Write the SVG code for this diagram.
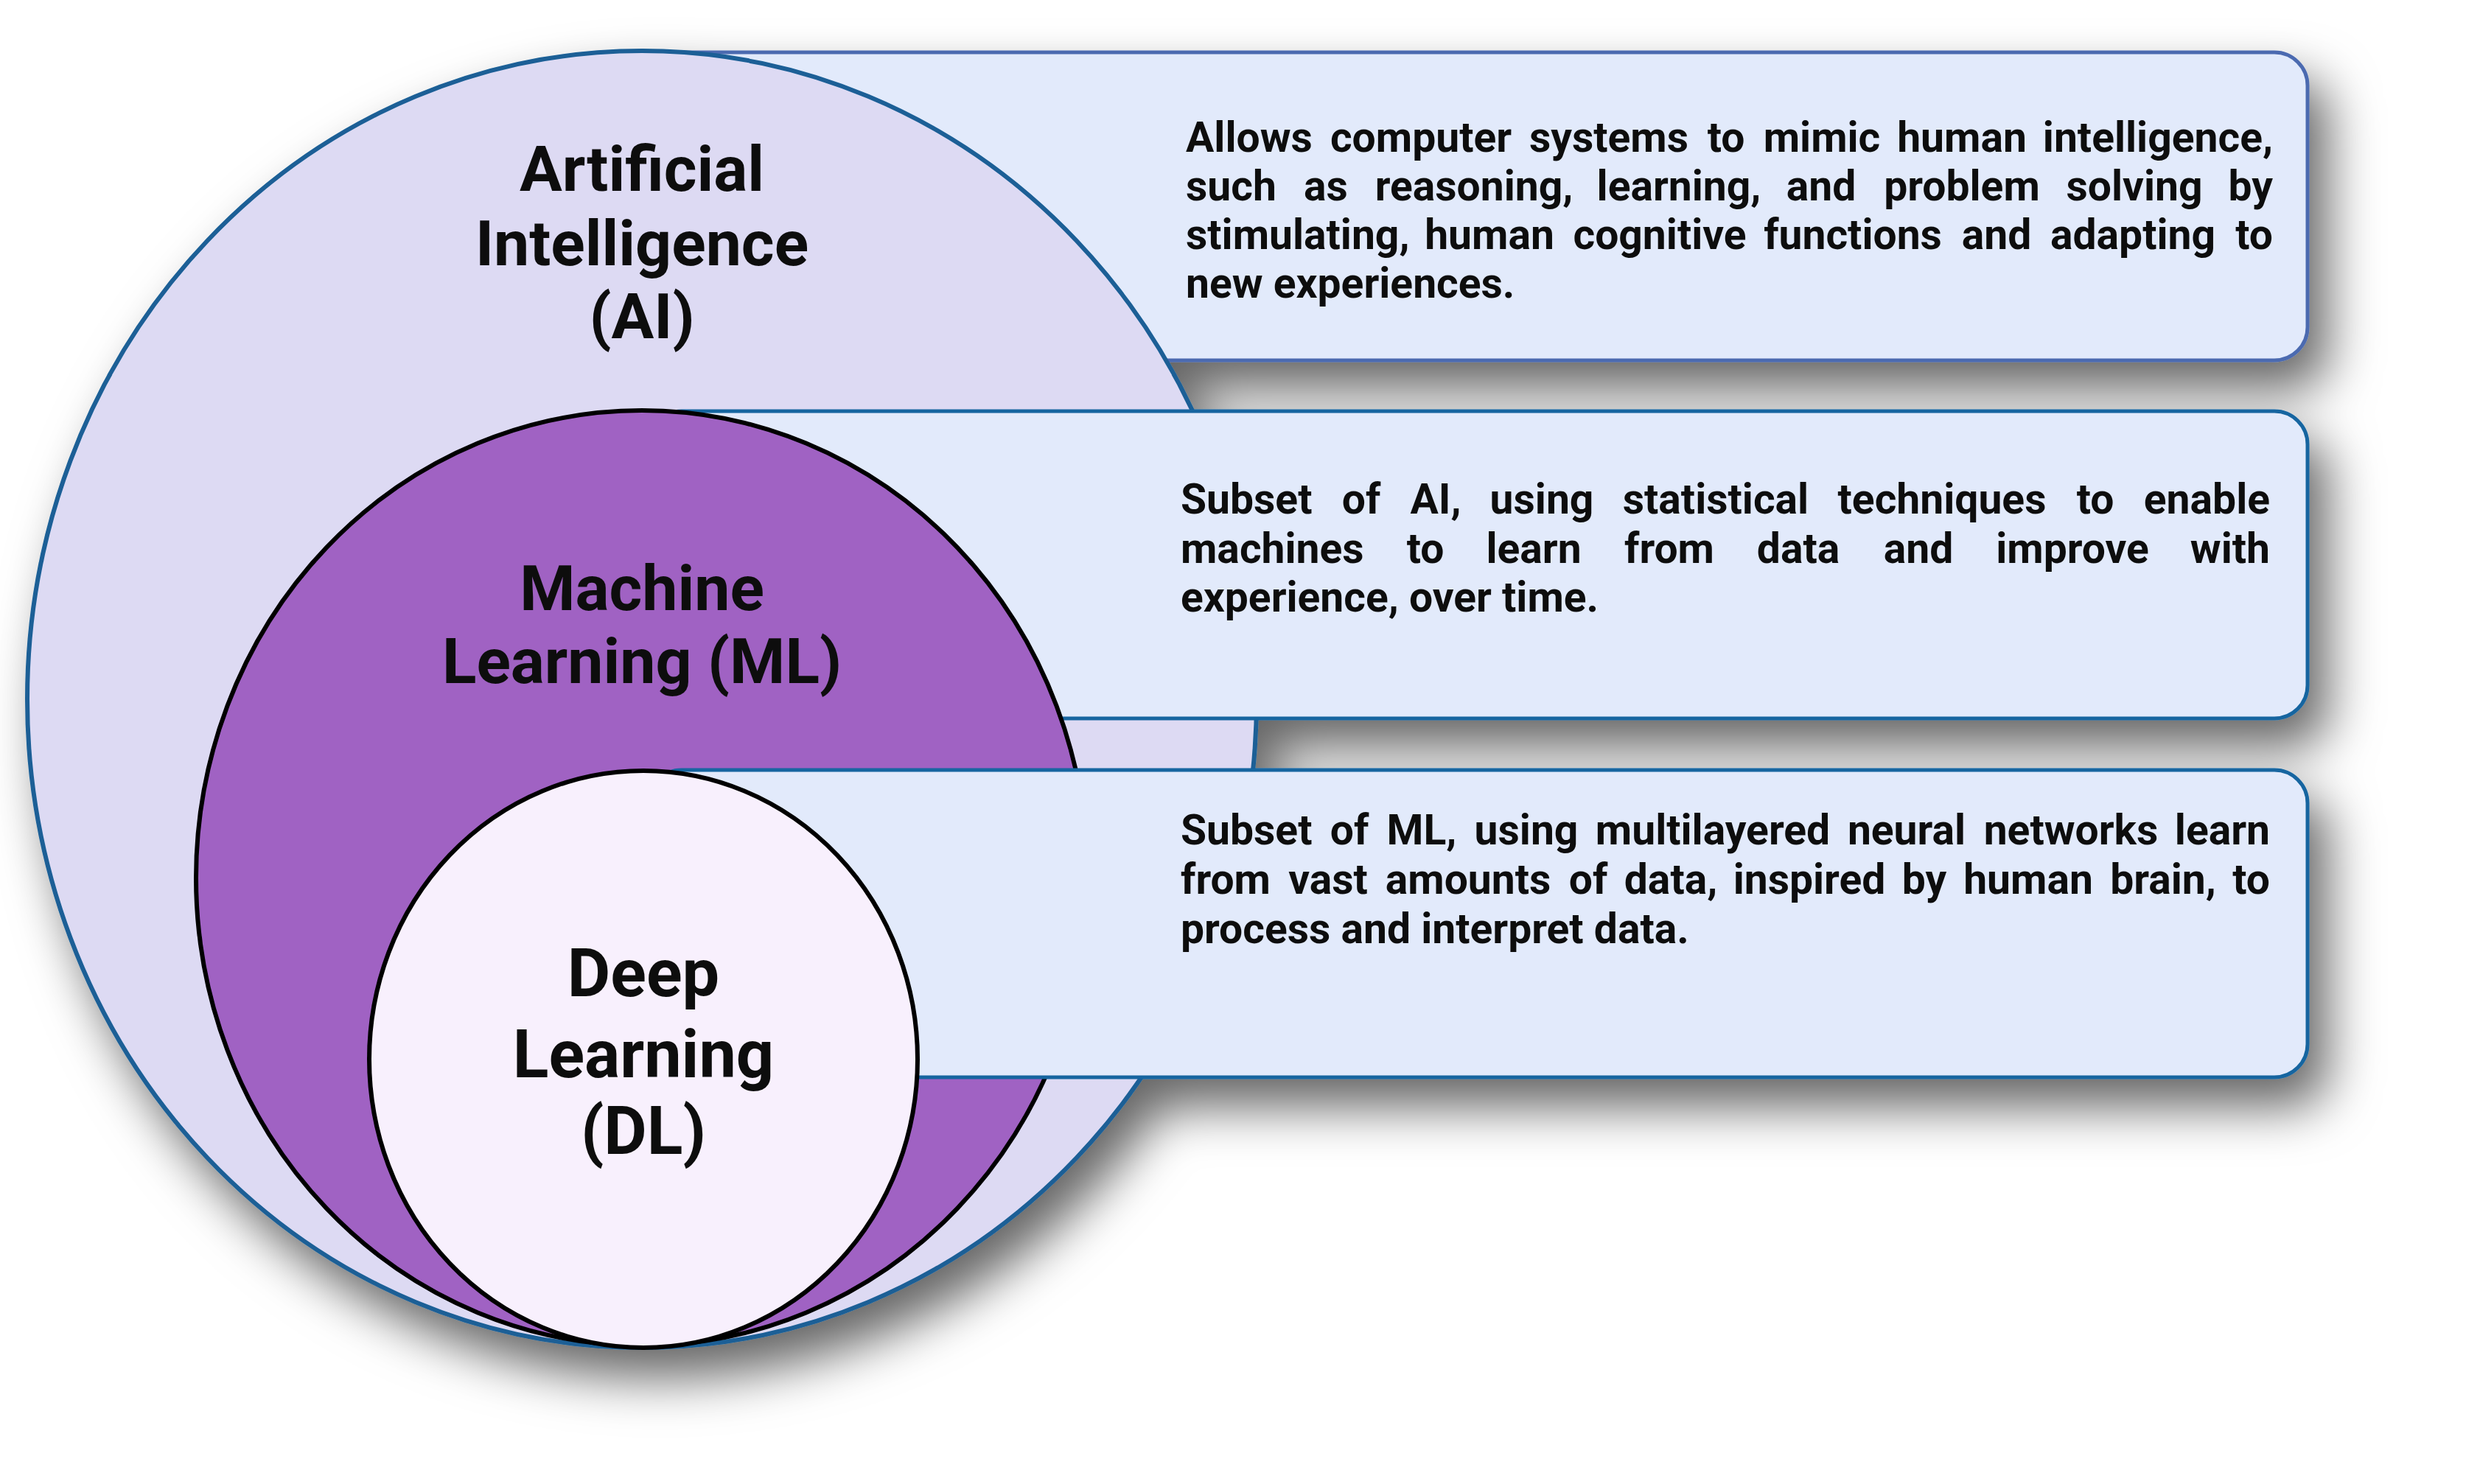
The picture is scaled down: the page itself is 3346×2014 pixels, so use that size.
<svg xmlns="http://www.w3.org/2000/svg" width="3346" height="2014" viewBox="0 0 3346 2014">
<defs>
<filter id="shadow" filterUnits="userSpaceOnUse" x="0" y="0" width="3346" height="2014">
<feDropShadow dx="25" dy="38" stdDeviation="34" flood-color="#000" flood-opacity="0.6"/>
</filter>
</defs>
<style>
.box{fill:#e2eafb;stroke:#1565a0;stroke-width:5}
.box1{stroke:#4c6bb0}
.title{font-family:Roboto,"Liberation Sans",sans-serif;font-weight:700;font-size:86px;fill:#111;text-anchor:middle}
.desc{font-family:Roboto,"Liberation Sans",sans-serif;font-weight:700;font-size:57px;fill:#111}
.mid{text-anchor:middle}
.end{text-anchor:end}
</style>
<rect width="3346" height="2014" fill="#fff"/>
<g id="diagram" filter="url(#shadow)">
<g id="box-ai">
<rect class="box box1" x="880" y="71" width="2251" height="418" rx="45"/>
<text class="desc" x="1609" y="206">Allows</text>
<text class="desc mid" y="206"><tspan x="1928">computer</tspan><tspan x="2183">systems</tspan><tspan x="2342">to</tspan><tspan x="2472">mimic</tspan><tspan x="2662">human</tspan></text>
<text class="desc end" x="3084" y="206">intelligence,</text>
<text class="desc" x="1609" y="272">such</text>
<text class="desc mid" y="272"><tspan x="1799">as</tspan><tspan x="2000">reasoning,</tspan><tspan x="2278">learning,</tspan><tspan x="2471">and</tspan><tspan x="2662">problem</tspan><tspan x="2896">solving</tspan></text>
<text class="desc end" x="3084" y="272">by</text>
<text class="desc" x="1609" y="338">stimulating,</text>
<text class="desc mid" y="338"><tspan x="2021">human</tspan><tspan x="2252">cognitive</tspan><tspan x="2514">functions</tspan><tspan x="2709">and</tspan><tspan x="2894">adapting</tspan></text>
<text class="desc end" x="3084" y="338">to</text>
<text class="desc" x="1609" y="404">new experiences.</text>
</g>
<g id="node-ai">
<ellipse cx="871" cy="949" rx="834" ry="880" fill="#dddaf3" stroke="#1a5f96" stroke-width="6"/>
<text class="title" x="871" y="259">Artificial</text>
<text class="title" x="871" y="360">Intelligence</text>
<text class="title" x="871" y="459">(AI)</text>
</g>
<g id="box-ml">
<rect class="box" x="880" y="558" width="2251" height="417" rx="45"/>
<text class="desc" x="1602" y="697">Subset</text>
<text class="desc mid" y="697"><tspan x="1847">of</tspan><tspan x="1948">AI,</tspan><tspan x="2092">using</tspan><tspan x="2328">statistical</tspan><tspan x="2635">techniques</tspan><tspan x="2843">to</tspan></text>
<text class="desc end" x="3080" y="697">enable</text>
<text class="desc" x="1602" y="764">machines</text>
<text class="desc mid" y="764"><tspan x="1934">to</tspan><tspan x="2081">learn</tspan><tspan x="2265">from</tspan><tspan x="2440">data</tspan><tspan x="2603">and</tspan><tspan x="2812">improve</tspan></text>
<text class="desc end" x="3080" y="764">with</text>
<text class="desc" x="1602" y="830">experience, over time.</text>
</g>
<g id="node-ml">
<ellipse cx="871" cy="1191.5" rx="605" ry="634.5" fill="#a062c3" stroke="#000" stroke-width="6"/>
<text class="title" x="871" y="828">Machine</text>
<text class="title" x="871" y="927">Learning (ML)</text>
</g>
<g id="box-dl">
<rect class="box" x="880" y="1045" width="2251" height="417" rx="45"/>
<text class="desc" x="1602" y="1146">Subset</text>
<text class="desc mid" y="1146"><tspan x="1831">of</tspan><tspan x="1929">ML,</tspan><tspan x="2071">using</tspan><tspan x="2324">multilayered</tspan><tspan x="2587">neural</tspan><tspan x="2810">networks</tspan></text>
<text class="desc end" x="3080" y="1146">learn</text>
<text class="desc" x="1602" y="1213">from</text>
<text class="desc mid" y="1213"><tspan x="1802">vast</tspan><tspan x="1992">amounts</tspan><tspan x="2155">of</tspan><tspan x="2267">data,</tspan><tspan x="2455">inspired</tspan><tspan x="2611">by</tspan><tspan x="2752">human</tspan><tspan x="2935">brain,</tspan></text>
<text class="desc end" x="3080" y="1213">to</text>
<text class="desc" x="1602" y="1280">process and interpret data.</text>
</g>
<g id="node-dl">
<ellipse cx="873" cy="1437.5" rx="372" ry="391.5" fill="#f8f0fd" stroke="#000" stroke-width="6"/>
<text class="title" x="873" y="1352" style="font-size:90px">Deep</text>
<text class="title" x="873" y="1462" style="font-size:90px">Learning</text>
<text class="title" x="873" y="1566" style="font-size:90px">(DL)</text>
</g>
</g>
<g id="connectors"/>
</svg>
